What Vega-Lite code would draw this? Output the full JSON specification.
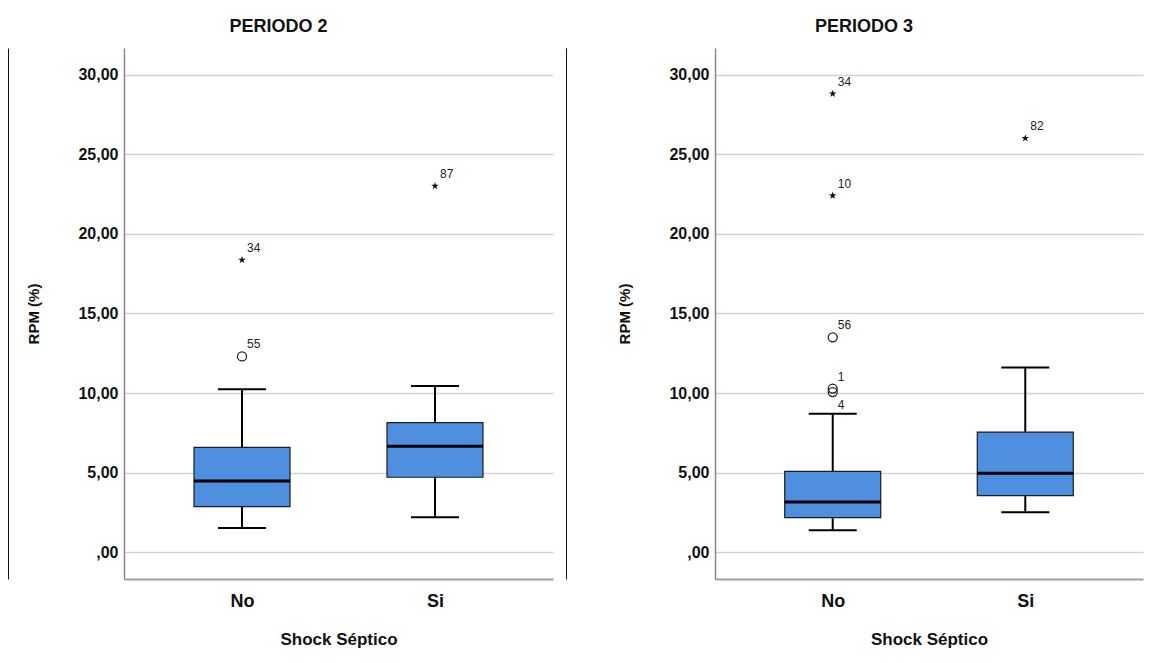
{
  "$schema": "https://vega.github.io/schema/vega-lite/v6.json",
  "background": "white",
  "padding": {"left": 8, "top": 18, "right": 5, "bottom": 5},
  "spacing": 51,
  "datasets": {
    "box": [
      {"periodo": 2, "grupo": "No", "lower": 1.53, "q1": 2.87, "median": 4.48, "q3": 6.59, "upper": 10.23},
      {"periodo": 2, "grupo": "Si", "lower": 2.2, "q1": 4.71, "median": 6.65, "q3": 8.14, "upper": 10.44},
      {"periodo": 3, "grupo": "No", "lower": 1.38, "q1": 2.18, "median": 3.16, "q3": 5.08, "upper": 8.7},
      {"periodo": 3, "grupo": "Si", "lower": 2.51, "q1": 3.56, "median": 4.96, "q3": 7.55, "upper": 11.6}
    ],
    "out": [
      {"periodo": 2, "grupo": "No", "caso": "34", "valor": 18.35, "tipo": "extremo"},
      {"periodo": 2, "grupo": "No", "caso": "55", "valor": 12.3, "tipo": "atipico"},
      {"periodo": 2, "grupo": "Si", "caso": "87", "valor": 23.0, "tipo": "extremo"},
      {"periodo": 3, "grupo": "No", "caso": "34", "valor": 28.8, "tipo": "extremo"},
      {"periodo": 3, "grupo": "No", "caso": "10", "valor": 22.4, "tipo": "extremo"},
      {"periodo": 3, "grupo": "No", "caso": "56", "valor": 13.5, "tipo": "atipico"},
      {"periodo": 3, "grupo": "No", "caso": "1", "valor": 10.28, "tipo": "atipico"},
      {"periodo": 3, "grupo": "No", "caso": "4", "valor": 10.06, "tipo": "atipico"},
      {"periodo": 3, "grupo": "Si", "caso": "82", "valor": 26.0, "tipo": "extremo"}
    ]
  },
  "hconcat": [
    {
      "width": 429,
      "height": 531,
      "title": {"text": "PERIODO 2", "dx": -60, "fontSize": 18, "fontWeight": "bold", "color": "#111", "anchor": "middle", "offset": 12},
      "resolve": {"axis": {"y": "independent"}},
      "encoding": {
        "x": {"field": "grupo", "type": "nominal", "title": "Shock Séptico", "scale": {"type": "point", "padding": 0.6114, "domain": ["No", "Si"]}}
      },
      "layer": [
        {"data": {"name": "box"}, "transform": [{"filter": "datum.periodo == 2"}], "mark": {"type": "rule", "color": "black", "strokeWidth": 2}, "encoding": {"y": {"field": "lower", "type": "quantitative", "title": "RPM (%)", "scale": {"domain": [-1.68, 31.67], "nice": false, "zero": false}, "axis": {"values": [0, 5, 10, 15, 20, 25, 30]}}, "y2": {"field": "upper"}}},
        {"data": {"name": "box"}, "transform": [{"filter": "datum.periodo == 2"}], "mark": {"type": "bar", "size": 96, "fill": "#4f8fe0", "stroke": "#1c1c1c", "strokeWidth": 1.2}, "encoding": {"y": {"field": "q1", "type": "quantitative", "title": null, "axis": {"orient": "right", "offset": 13, "labels": false, "ticks": false, "grid": false, "domainColor": "#111", "domainWidth": 1, "title": null}}, "y2": {"field": "q3"}}},
        {"data": {"name": "box"}, "transform": [{"filter": "datum.periodo == 2"}], "mark": {"type": "tick", "size": 96, "thickness": 3, "color": "black", "opacity": 1}, "encoding": {"y": {"field": "median", "type": "quantitative", "title": null, "axis": {"orient": "left", "offset": 116, "labels": false, "ticks": false, "grid": false, "domainColor": "#111", "domainWidth": 1, "title": null}}}},
        {"data": {"name": "box"}, "transform": [{"filter": "datum.periodo == 2"}], "mark": {"type": "tick", "size": 48, "thickness": 2, "color": "black", "opacity": 1}, "encoding": {"y": {"field": "lower", "type": "quantitative", "axis": null}}},
        {"data": {"name": "box"}, "transform": [{"filter": "datum.periodo == 2"}], "mark": {"type": "tick", "size": 48, "thickness": 2, "color": "black", "opacity": 1}, "encoding": {"y": {"field": "upper", "type": "quantitative", "axis": null}}},
        {"data": {"name": "out"}, "transform": [{"filter": "datum.periodo == 2 && datum.tipo == 'extremo'"}], "mark": {"type": "point", "shape": "M0,-1L0.2245,-0.309L0.951,-0.309L0.363,0.118L0.588,0.809L0,0.382L-0.588,0.809L-0.363,0.118L-0.951,-0.309L-0.2245,-0.309Z", "size": 64, "filled": true, "color": "#111", "opacity": 1}, "encoding": {"y": {"field": "valor", "type": "quantitative", "axis": null}}},
        {"data": {"name": "out"}, "transform": [{"filter": "datum.periodo == 2 && datum.tipo == 'atipico'"}], "mark": {"type": "point", "shape": "circle", "size": 81, "filled": false, "stroke": "#222", "strokeWidth": 1.3, "opacity": 1}, "encoding": {"y": {"field": "valor", "type": "quantitative", "axis": null}}},
        {"data": {"name": "out"}, "transform": [{"filter": "datum.periodo == 2"}], "mark": {"type": "text", "align": "left", "baseline": "middle", "dx": 5, "dy": -12, "fontSize": 12, "color": "#222"}, "encoding": {"y": {"field": "valor", "type": "quantitative", "axis": null}, "text": {"field": "caso"}}}
      ]
    },
    {
      "width": 428,
      "height": 531,
      "title": {"text": "PERIODO 3", "dx": -65, "fontSize": 18, "fontWeight": "bold", "color": "#111", "anchor": "middle", "offset": 12},
      "encoding": {
        "x": {"field": "grupo", "type": "nominal", "title": "Shock Séptico", "scale": {"type": "point", "padding": 0.6114, "domain": ["No", "Si"]}}
      },
      "layer": [
        {"data": {"name": "box"}, "transform": [{"filter": "datum.periodo == 3"}], "mark": {"type": "rule", "color": "black", "strokeWidth": 2}, "encoding": {"y": {"field": "lower", "type": "quantitative", "title": "RPM (%)", "scale": {"domain": [-1.68, 31.67], "nice": false, "zero": false}, "axis": {"values": [0, 5, 10, 15, 20, 25, 30]}}, "y2": {"field": "upper"}}},
        {"data": {"name": "box"}, "transform": [{"filter": "datum.periodo == 3"}], "mark": {"type": "bar", "size": 96, "fill": "#4f8fe0", "stroke": "#1c1c1c", "strokeWidth": 1.2}, "encoding": {"y": {"field": "q1", "type": "quantitative", "title": "RPM (%)"}, "y2": {"field": "q3"}}},
        {"data": {"name": "box"}, "transform": [{"filter": "datum.periodo == 3"}], "mark": {"type": "tick", "size": 96, "thickness": 3, "color": "black", "opacity": 1}, "encoding": {"y": {"field": "median", "type": "quantitative", "title": "RPM (%)"}}},
        {"data": {"name": "box"}, "transform": [{"filter": "datum.periodo == 3"}], "mark": {"type": "tick", "size": 48, "thickness": 2, "color": "black", "opacity": 1}, "encoding": {"y": {"field": "lower", "type": "quantitative", "title": "RPM (%)"}}},
        {"data": {"name": "box"}, "transform": [{"filter": "datum.periodo == 3"}], "mark": {"type": "tick", "size": 48, "thickness": 2, "color": "black", "opacity": 1}, "encoding": {"y": {"field": "upper", "type": "quantitative", "title": "RPM (%)"}}},
        {"data": {"name": "out"}, "transform": [{"filter": "datum.periodo == 3 && datum.tipo == 'extremo'"}], "mark": {"type": "point", "shape": "M0,-1L0.2245,-0.309L0.951,-0.309L0.363,0.118L0.588,0.809L0,0.382L-0.588,0.809L-0.363,0.118L-0.951,-0.309L-0.2245,-0.309Z", "size": 64, "filled": true, "color": "#111", "opacity": 1}, "encoding": {"y": {"field": "valor", "type": "quantitative", "title": "RPM (%)"}}},
        {"data": {"name": "out"}, "transform": [{"filter": "datum.periodo == 3 && datum.tipo == 'atipico'"}], "mark": {"type": "point", "shape": "circle", "size": 81, "filled": false, "stroke": "#222", "strokeWidth": 1.3, "opacity": 1}, "encoding": {"y": {"field": "valor", "type": "quantitative", "title": "RPM (%)"}}},
        {"data": {"name": "out"}, "transform": [{"filter": "datum.periodo == 3 && datum.caso != '4'"}], "mark": {"type": "text", "align": "left", "baseline": "middle", "dx": 5, "dy": -12, "fontSize": 12, "color": "#222"}, "encoding": {"y": {"field": "valor", "type": "quantitative", "title": "RPM (%)"}, "text": {"field": "caso"}}},
        {"data": {"name": "out"}, "transform": [{"filter": "datum.periodo == 3 && datum.caso == '4'"}], "mark": {"type": "text", "align": "left", "baseline": "middle", "dx": 5, "dy": 13, "fontSize": 12, "color": "#222"}, "encoding": {"y": {"field": "valor", "type": "quantitative", "title": "RPM (%)"}, "text": {"field": "caso"}}}
      ]
    }
  ],
  "config": {
    "font": "Liberation Sans",
    "view": {"stroke": null},
    "axisY": {
      "labelExpr": "datum.value == 0 ? ',00' : replace(format(datum.value, '.2f'), '.', ',')",
      "grid": true,
      "gridColor": "#d2d2d2",
      "gridWidth": 1.5,
      "ticks": false,
      "domainColor": "#8a8a8a",
      "domainWidth": 1.5,
      "labelFontSize": 16,
      "labelFontWeight": "bold",
      "labelColor": "#111",
      "labelPadding": 6,
      "titleFontSize": 15,
      "titleFontWeight": "bold",
      "titleColor": "#111",
      "titlePadding": 36
    },
    "axisX": {
      "grid": false,
      "ticks": false,
      "domainColor": "#a0a0a0",
      "domainWidth": 2,
      "labelAngle": 0,
      "labelFontSize": 18,
      "labelFontWeight": "bold",
      "labelColor": "#111",
      "labelPadding": 13,
      "titleFontSize": 17,
      "titleFontWeight": "bold",
      "titleColor": "#111",
      "titlePadding": 21
    }
  }
}
